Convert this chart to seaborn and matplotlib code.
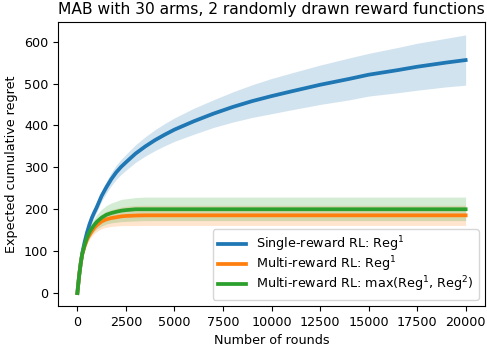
import matplotlib
matplotlib.use("Agg")
import matplotlib.pyplot as plt
import seaborn as sns
import pandas as pd

rounds = [0, 50, 100, 175, 250, 375, 500, 625, 750, 875, 1000, 1250, 1500,
          1750, 2000, 2250, 2500, 3000, 3500, 4000, 4500, 5000, 6000, 7000,
          8000, 9000, 10000, 11000, 12500, 14000, 15000, 16500, 17500, 19000,
          20000]

# Single-reward RL: Reg^1
single_mean = [0, 23, 45, 72, 95, 122, 145, 164, 180, 193, 205, 232, 253,
               272, 288, 301, 312, 333, 350, 365, 378, 390, 410, 428, 444,
               458, 470, 481, 497, 511, 521, 532, 540, 550, 556]
single_lo = [0, 22, 43, 69, 91, 116, 138, 156, 171, 183, 194, 219.5, 239,
             256.5, 271, 283, 293, 312, 327, 340, 351.5, 362, 379, 395, 408,
             419, 428, 437, 450, 461, 470, 478, 484, 492, 496]
single_hi = [0, 24, 47, 75, 99, 128, 152, 172, 189, 203, 216, 244.5, 267,
             287.5, 305, 319, 331, 354, 373, 390, 404.5, 418, 441, 461, 480,
             497, 512, 525, 544, 561, 572, 586, 596, 608, 616]

# Multi-reward RL: Reg^1
multi1_mean = [0, 23, 45, 72, 92, 112, 128, 139, 148, 156, 162, 171, 176,
               179, 181, 183, 184, 185, 185.5, 185.5, 185.5, 185.5, 185.5,
               185.5, 185.5, 185.5, 185.5, 185.5, 185.5, 185.5, 185.5, 185.5,
               185.5, 185.5, 185.5]
multi1_lo = [0, 22, 43, 69, 87, 105, 119, 128.5, 136, 142.5, 147, 154, 157,
             159, 160, 161, 161, 161, 161.5, 161.5, 161.5, 161.5, 161.5,
             161.5, 161.5, 161.5, 161.5, 161.5, 161.5, 161.5, 161.5, 161.5,
             161.5, 161.5, 161.5]
multi1_hi = [0, 24, 47, 75, 97, 119, 137, 149.5, 160, 169.5, 177, 188, 195,
             199, 202, 205, 207, 209, 209.5, 209.5, 209.5, 209.5, 209.5,
             209.5, 209.5, 209.5, 209.5, 209.5, 209.5, 209.5, 209.5, 209.5,
             209.5, 209.5, 209.5]

# Multi-reward RL: max(Reg^1, Reg^2)
multimax_mean = [0, 23, 45, 72, 93, 115, 133, 146, 155, 163, 170, 180, 187,
                 191, 194, 196.5, 198, 200, 200, 200, 200, 200, 200, 200, 200,
                 200, 200, 200, 200, 200, 200, 200, 200, 200, 200]
multimax_lo = [0, 22, 43, 69, 88, 108, 123, 134, 141, 147.5, 153, 160, 165,
               167.5, 169, 170.5, 171, 172, 173, 173, 173, 173, 173, 173, 173,
               173, 173, 173, 173, 173, 173, 173, 173, 173, 173]
multimax_hi = [0, 24, 47, 75, 98, 122, 143, 158, 169, 179, 187, 200, 209,
               215, 219, 223.5, 225, 228, 229, 229, 229, 229, 229, 229, 229,
               229, 229, 229, 229, 229, 229, 229, 229, 229, 229]

labels = ["Single-reward RL: Reg$^1$",
          "Multi-reward RL: Reg$^1$",
          "Multi-reward RL: max(Reg$^1$, Reg$^2$)"]

title = "MAB with 30 arms, 2 randomly drawn reward functions"
xlabel = "Number of rounds"
ylabel = "Expected cumulative regret"
xticks = [0, 2500, 5000, 7500, 10000, 12500, 15000, 17500, 20000]
yticks = [0, 100, 200, 300, 400, 500, 600]

plt.rcParams["font.family"] = ["DejaVu Sans"]
plt.rcParams["font.size"] = 9.2

colors = sns.color_palette("tab10")[:3]

fig = plt.figure(figsize=(4.87, 3.52), dpi=100)
ax = fig.add_axes([0.119, 0.1307, 0.877, 0.8068])

series = [(single_mean, single_lo, single_hi),
          (multi1_mean, multi1_lo, multi1_hi),
          (multimax_mean, multimax_lo, multimax_hi)]

for (m, lo, hi), lab, c in zip(series, labels, colors):
    df = pd.DataFrame({"rounds": rounds, "regret": m})
    ax.fill_between(rounds, lo, hi, color=c, alpha=0.2, linewidth=0)
    sns.lineplot(data=df, x="rounds", y="regret", ax=ax, color=c,
                 linewidth=2.7, label=lab, errorbar=None)

ax.set_xlim(-1000, 21000)
ax.set_ylim(-30.8, 646.8)
ax.set_xticks(xticks)
ax.set_yticks(yticks)
ax.set_title(title, fontsize=11.2)
ax.set_xlabel(xlabel)
ax.set_ylabel(ylabel)
ax.legend(loc="lower right", handlelength=2.2, labelspacing=0.05)

fig.savefig("out.png", dpi=100)
